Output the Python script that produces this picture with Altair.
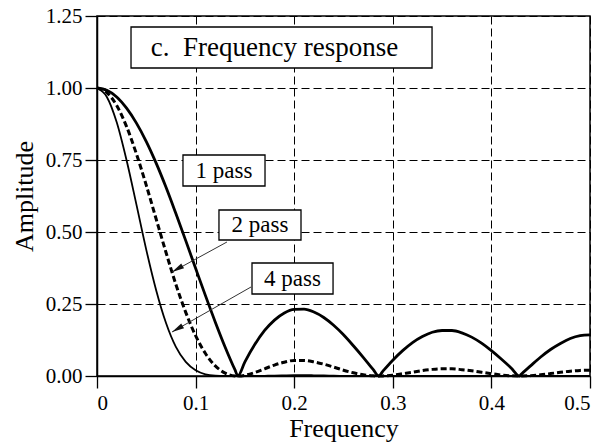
import altair as alt
import pandas as pd

# ---- data ----
freq = [0.0, 0.01, 0.02, 0.03, 0.04, 0.05, 0.06, 0.07, 0.08, 0.09, 0.10, 0.11, 0.12, 0.13, 0.14, 0.1429,
        0.15, 0.16, 0.17, 0.18, 0.19, 0.20, 0.21, 0.22, 0.23, 0.24, 0.25, 0.26, 0.27, 0.28, 0.2857,
        0.29, 0.30, 0.31, 0.32, 0.33, 0.34, 0.35, 0.36, 0.37, 0.38, 0.39, 0.40, 0.41, 0.42, 0.4286,
        0.43, 0.44, 0.45, 0.46, 0.47, 0.48, 0.49, 0.50]

pass1 = [1.0, 0.992, 0.969, 0.930, 0.878, 0.814, 0.739, 0.655, 0.564, 0.470, 0.374, 0.279, 0.187, 0.100, 0.021, 0.0,
         0.049, 0.109, 0.158, 0.194, 0.219, 0.231, 0.232, 0.222, 0.203, 0.176, 0.143, 0.105, 0.065, 0.023, 0.0,
         0.017, 0.055, 0.088, 0.116, 0.137, 0.152, 0.158, 0.158, 0.150, 0.135, 0.114, 0.088, 0.059, 0.028, 0.0,
         0.005, 0.036, 0.066, 0.092, 0.113, 0.130, 0.140, 0.143]

pass2 = [1.0, 0.984, 0.939, 0.866, 0.771, 0.662, 0.545, 0.429, 0.318, 0.221, 0.140, 0.078, 0.035, 0.010, 0.0004, 0.0,
         0.0024, 0.012, 0.025, 0.038, 0.048, 0.054, 0.054, 0.049, 0.041, 0.031, 0.020, 0.011, 0.004, 0.0005, 0.0,
         0.0003, 0.003, 0.008, 0.013, 0.019, 0.023, 0.025, 0.025, 0.022, 0.018, 0.013, 0.008, 0.0035, 0.0008, 0.0,
         0.0, 0.0013, 0.0043, 0.0084, 0.0129, 0.0168, 0.0195, 0.0204]

pass4 = [1.0, 0.969, 0.881, 0.749, 0.595, 0.438, 0.298, 0.184, 0.101, 0.049, 0.020, 0.006, 0.0012, 0.0001, 0.0, 0.0,
         0.0, 0.0001, 0.0006, 0.0014, 0.0023, 0.0029, 0.0029, 0.0024, 0.0017, 0.0010, 0.0004, 0.0001, 0.0, 0.0, 0.0,
         0.0, 0.0, 0.0001, 0.0002, 0.0004, 0.0005, 0.0006, 0.0006, 0.0005, 0.0003, 0.0002, 0.0001, 0.0, 0.0, 0.0,
         0.0, 0.0, 0.0, 0.0001, 0.0002, 0.0003, 0.0004, 0.0004]

x_ticks = [0, 0.1, 0.2, 0.3, 0.4, 0.5]
y_ticks = [0, 0.25, 0.5, 0.75, 1.0, 1.25]

labels = ["1 pass", "2 pass", "4 pass"]
title_text = "c.\u00a0 Frequency response"

df = pd.DataFrame({"f": freq, "p1": pass1, "p2": pass2, "p4": pass4})

FONT = "Liberation Serif"
xs = alt.Scale(domain=[0, 0.5], nice=False, zero=False)
ys = alt.Scale(domain=[0, 1.25], nice=False)

xax = alt.Axis(values=x_ticks, format=".1~f", title="Frequency", grid=True)
yax = alt.Axis(values=y_ticks, format=".2f", title="Amplitude", grid=True)

base = alt.Chart(df)

grid_layer = base.mark_line(opacity=0).encode(
    x=alt.X("f:Q", scale=xs, axis=xax),
    y=alt.Y("p1:Q", scale=ys, axis=yax),
)

line1 = base.mark_line(color="black", strokeWidth=2.8, interpolate="monotone").encode(
    x=alt.X("f:Q", scale=xs), y=alt.Y("p1:Q", scale=ys))
line2 = base.mark_line(color="black", strokeWidth=3.0, strokeDash=[6, 3], interpolate="monotone").encode(
    x=alt.X("f:Q", scale=xs), y=alt.Y("p2:Q", scale=ys))
line4 = base.mark_line(color="black", strokeWidth=1.8, interpolate="monotone").encode(
    x=alt.X("f:Q", scale=xs), y=alt.Y("p4:Q", scale=ys))

# annotation boxes (data coordinates)
boxes = pd.DataFrame({
    "x": [0.0345, 0.0872, 0.1237, 0.1572],
    "x2": [0.3398, 0.1704, 0.2069, 0.2394],
    "y": [1.2118, 0.7674, 0.5764, 0.3924],
    "y2": [1.0694, 0.6597, 0.4722, 0.2847],
})
box_layer = alt.Chart(boxes).mark_rect(fill="white", stroke="black", strokeWidth=1.3).encode(
    x=alt.X("x:Q", scale=xs), x2="x2:Q", y=alt.Y("y:Q", scale=ys), y2="y2:Q")

title_df = pd.DataFrame({"x": [0.180], "y": [1.1406], "t": [title_text]})
title_layer = alt.Chart(title_df).mark_text(font=FONT, fontSize=27, color="black", align="center",
                                            baseline="middle").encode(
    x=alt.X("x:Q", scale=xs), y=alt.Y("y:Q", scale=ys), text="t:N")

lab_df = pd.DataFrame({"x": [0.1288, 0.1653, 0.1983], "y": [0.7135, 0.5243, 0.3385], "t": labels})
lab_layer = alt.Chart(lab_df).mark_text(font=FONT, fontSize=23, color="black", align="center",
                                        baseline="middle").encode(
    x=alt.X("x:Q", scale=xs), y=alt.Y("y:Q", scale=ys), text="t:N")

arrows = pd.DataFrame({
    "x": [0.1318, 0.1562], "y": [0.4653, 0.3090],
    "x2": [0.0761, 0.0761], "y2": [0.3611, 0.1528],
})
arrow_lines = alt.Chart(arrows).mark_rule(color="#333333", strokeWidth=1).encode(
    x=alt.X("x:Q", scale=xs), y=alt.Y("y:Q", scale=ys), x2="x2:Q", y2="y2:Q")
arrow_heads = alt.Chart(arrows).mark_point(
    shape="M0,0L-0.23,1L0.23,1Z", filled=True, color="#111111", opacity=1, size=600, angle=240
).encode(x=alt.X("x2:Q", scale=xs), y=alt.Y("y2:Q", scale=ys))

chart = alt.layer(
    grid_layer, line4, line2, line1, box_layer, title_layer, lab_layer, arrow_lines, arrow_heads
).properties(
    width=493, height=360,
    autosize=alt.AutoSizeParams(type="none"),
    padding={"left": 97, "top": 16, "right": 21, "bottom": 71},
    background="white",
).configure(
    font=FONT
).configure_view(
    stroke="black", strokeWidth=1.5
).configure_axis(
    domainColor="black", domainWidth=1.5,
    tickColor="black", tickWidth=1.3, tickSize=12,
    gridColor="black", gridOpacity=1, gridWidth=1, gridDash=[8, 4],
    labelFont=FONT, labelFontSize=21, labelColor="black",
    titleFont=FONT, titleFontSize=26, titleColor="black", titleFontWeight="normal",
).configure_axisX(
    labelPadding=4, titlePadding=2,
).configure_axisY(
    labelPadding=3, titlePadding=8,
)

chart.save("out.html", embed_options={"renderer": "svg", "actions": False})
